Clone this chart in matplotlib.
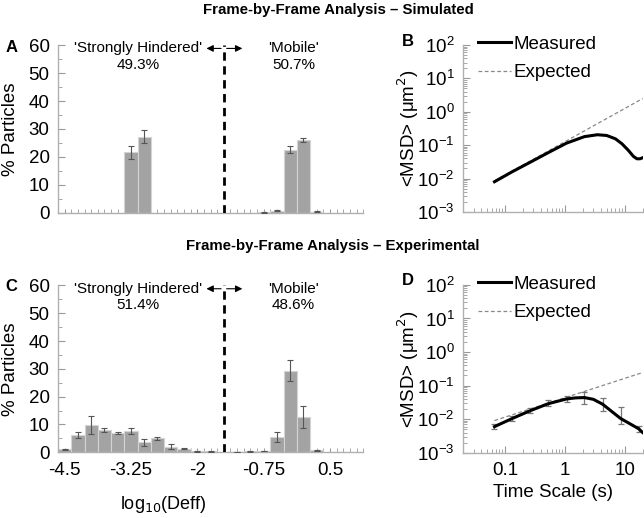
import numpy as np
import matplotlib
matplotlib.use("Agg")
from matplotlib import pyplot as plt
from matplotlib.ticker import MultipleLocator, LogLocator, NullFormatter

plt.rcParams['font.family'] = ['Liberation Sans', 'DejaVu Sans']

# histogram bins (log10 Deff), bin width 0.25
bin_centers = [-4.5, -4.25, -4.0, -3.75, -3.5, -3.25, -3.0, -2.75, -2.5, -2.25,
               -2.0, -1.75, -1.25, -1.0, -0.75, -0.5, -0.25, 0.0, 0.25]
sim_pct = [0, 0, 0, 0, 0, 21.6, 27.3, 0, 0, 0,
           0, 0, 0, 0, 0.2, 0.8, 22.6, 26.1, 0.4]
sim_err = [0, 0, 0, 0, 0, 2.2, 2.4, 0, 0, 0,
           0, 0, 0, 0, 0.1, 0.2, 1.3, 0.7, 0.1]
exp_pct = [1.0, 6.3, 9.8, 8.0, 7.0, 7.6, 3.5, 5.0, 2.0, 1.3,
           0.3, 0.3, 0.1, 0.3, 0.5, 5.5, 29.3, 12.8, 0.7]
exp_err = [0.2, 1.1, 3.1, 0.6, 0.3, 1.1, 1.3, 0.5, 1.0, 0.3,
           0.1, 0.1, 0.05, 0.1, 0.1, 1.8, 3.7, 4.0, 0.2]
sim_split = ["49.3%", "50.7%"]
exp_split = ["51.4%", "48.6%"]
hist_ticks = [-4.5, -3.25, -2, -0.75, 0.5]
hist_ticklabels = ["-4.5", "-3.25", "-2", "-0.75", "0.5"]

# MSD curves
sim_t = [0.067, 0.133, 0.267, 0.533, 1.07, 2.13, 3.5, 5.0, 7.0, 9.0, 11.5, 14.0, 16.0, 18.0, 20.0]
sim_msd = [0.008, 0.016, 0.031, 0.060, 0.115, 0.18, 0.205, 0.195, 0.155, 0.11,
           0.07, 0.046, 0.039, 0.039, 0.042]
sim_expected_t = [0.067, 20.0]
sim_expected = [0.0085, 2.5]

exp_t = [0.067, 0.133, 0.267, 0.533, 1.07, 1.5, 2.13, 3.0, 4.27, 8.53, 17.07, 20.0]
exp_msd = [0.0060, 0.0105, 0.018, 0.029, 0.040, 0.043, 0.044, 0.039, 0.028, 0.0105, 0.0052, 0.0040]
err_t = [0.067, 0.133, 0.267, 0.533, 1.07, 2.13, 4.27, 8.53, 17.07]
err_msd = [0.0060, 0.0105, 0.018, 0.029, 0.040, 0.044, 0.028, 0.0105, 0.0052]
err_lo = [0.0009, 0.0015, 0.003, 0.005, 0.007, 0.015, 0.010, 0.0035, 0.0010]
err_hi = [0.0012, 0.0020, 0.004, 0.007, 0.009, 0.021, 0.015, 0.013, 0.0012]
exp_expected_t = [0.067, 20.0]
exp_expected = [0.0091, 0.245]

axis_gray = '#b0b0b0'


def style_axes(ax):
    for s in ['top', 'right']:
        ax.spines[s].set_visible(False)
    for s in ['left', 'bottom']:
        ax.spines[s].set_color(axis_gray)
        ax.spines[s].set_linewidth(1.0)
    ax.tick_params(which='both', direction='in', color='#999999', labelsize=13.5)
    ax.tick_params(axis='y', pad=6)
    ax.tick_params(axis='x', pad=7)
    ax.tick_params(which='major', length=5)
    ax.tick_params(which='minor', length=3)


def hist_panel(ax, pct, err, split, show_x):
    x = [c for c, p in zip(bin_centers, pct) if p > 0]
    h = [p for p in pct if p > 0]
    e = [v for v, p in zip(err, pct) if p > 0]
    ax.bar(x, h, width=0.25, color='#a3a3a3', edgecolor='#d4d4d4', linewidth=0.8, zorder=2)
    ax.errorbar(x, h, yerr=e, fmt='none', ecolor='#555555', elinewidth=0.8,
                capsize=2.5, capthick=0.8, zorder=3)
    ax.axvline(-1.5, color='black', linestyle=(0, (3, 2)), linewidth=2, zorder=4)
    ax.set_xlim(-4.625, 1.125)
    ax.set_ylim(0, 60)
    ax.set_yticks(np.arange(0, 61, 10))
    ax.yaxis.set_minor_locator(MultipleLocator(5))
    ax.set_xticks(hist_ticks)
    ax.xaxis.set_minor_locator(MultipleLocator(0.125))
    style_axes(ax)
    ax.tick_params(axis='x', which='major', length=3)
    if show_x:
        ax.set_xticklabels(hist_ticklabels)
        ax.set_xlabel('log$_{10}$(Deff)', fontsize=13)
        ax.xaxis.set_label_coords(0.345, -0.25)
    else:
        ax.set_xticklabels([])
    ax.set_ylabel('% Particles', fontsize=13.5)
    ax.yaxis.set_label_coords(-0.128, 0.5)
    ax.text(-3.11, 58.8, "'Strongly Hindered'", ha='center', va='center', fontsize=11)
    ax.text(-3.11, 52.8, split[0], ha='center', va='center', fontsize=11)
    ax.text(-0.19, 58.8, "'Mobile'", ha='center', va='center', fontsize=11)
    ax.text(-0.19, 52.8, split[1], ha='center', va='center', fontsize=11)
    ax.annotate('', xy=(-1.88, 58.8), xytext=(-1.5, 58.8),
                arrowprops=dict(arrowstyle='-|>', color='black', lw=0.8, mutation_scale=10))
    ax.annotate('', xy=(-1.1, 58.8), xytext=(-1.5, 58.8),
                arrowprops=dict(arrowstyle='-|>', color='black', lw=0.8, mutation_scale=10))


def msd_panel(ax, t, msd, et, ev, show_x, errs=None):
    l1, = ax.plot(t, msd, color='black', linewidth=2.2, zorder=3)
    l2, = ax.plot(et, ev, color='#888888', linestyle=(0, (3, 2)), linewidth=0.9, zorder=2)
    if errs is not None:
        ax.errorbar(errs[0], errs[1], yerr=[errs[2], errs[3]], fmt='none', ecolor='#777777',
                    elinewidth=0.9, capsize=2.5, capthick=0.9, zorder=2)
    ax.set_xscale('log')
    ax.set_yscale('log')
    ax.set_xlim(0.02, 20)
    ax.set_ylim(1e-3, 1e2)
    ax.yaxis.set_major_locator(LogLocator(base=10, numticks=10))
    ax.yaxis.set_minor_locator(LogLocator(base=10, subs=np.arange(2, 10), numticks=20))
    ax.yaxis.set_minor_formatter(NullFormatter())
    ax.xaxis.set_minor_locator(LogLocator(base=10, subs=np.arange(2, 10), numticks=20))
    ax.xaxis.set_minor_formatter(NullFormatter())
    style_axes(ax)
    ax.set_xticks([0.1, 1, 10])
    if show_x:
        ax.set_xticklabels(['0.1', '1', '10'])
        ax.set_xlabel('Time Scale (s)', fontsize=13.5, labelpad=3)
    else:
        ax.set_xticklabels([])
    ax.set_ylabel('<MSD> (μm$^2$)', fontsize=13.5)
    ax.yaxis.set_label_coords(-0.235, 0.5)
    ax.legend([l1, l2], ['Measured', 'Expected'], loc='upper left', bbox_to_anchor=(0.04, 1.1),
              frameon=False, fontsize=13.5, handlelength=1.8, handletextpad=0.1,
              labelspacing=0.6, borderaxespad=0)


fig = plt.figure(figsize=(6.44, 5.18), dpi=100)

ax_a = fig.add_axes([0.090, 0.589, 0.474, 0.324])
ax_c = fig.add_axes([0.090, 0.127, 0.474, 0.322])
ax_b = fig.add_axes([0.719, 0.591, 0.279, 0.322])
ax_d = fig.add_axes([0.719, 0.126, 0.279, 0.324])

hist_panel(ax_a, sim_pct, sim_err, sim_split, False)
hist_panel(ax_c, exp_pct, exp_err, exp_split, True)
msd_panel(ax_b, sim_t, sim_msd, sim_expected_t, sim_expected, False)
msd_panel(ax_d, exp_t, exp_msd, exp_expected_t, exp_expected, True,
          errs=(err_t, err_msd, err_lo, err_hi))

fig.text(0.526, 0.980, 'Frame-by-Frame Analysis \u2013 Simulated', ha='center', va='center',
         fontsize=10.8, fontweight='bold')
fig.text(0.516, 0.525, 'Frame-by-Frame Analysis \u2013 Experimental', ha='center', va='center',
         fontsize=10.8, fontweight='bold')
for lbl, x, y in [('A', 0.018, 0.909), ('B', 0.634, 0.919), ('C', 0.018, 0.446), ('D', 0.634, 0.458)]:
    fig.text(x, y, lbl, ha='center', va='center', fontsize=12, fontweight='bold')

fig.savefig('out.png', dpi=100)
